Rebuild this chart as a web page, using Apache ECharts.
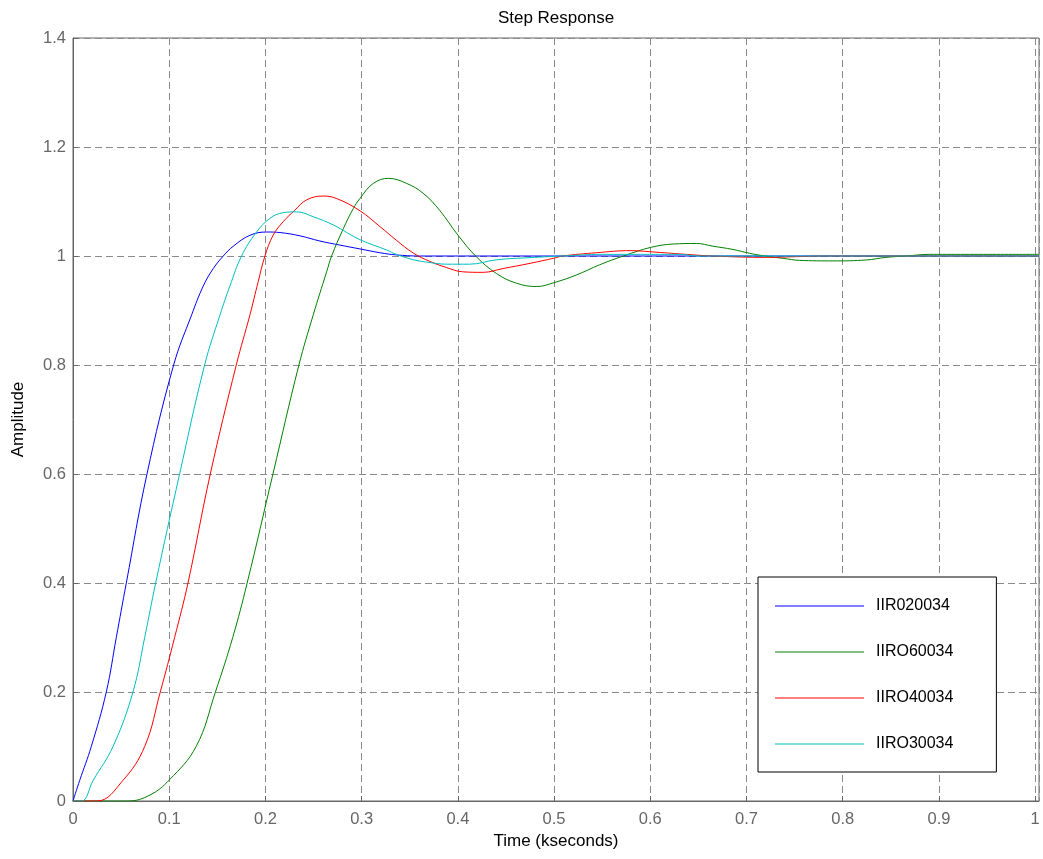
<!DOCTYPE html>
<html>
<head>
<meta charset="utf-8">
<title>Step Response</title>
<script src="https://cdn.jsdelivr.net/npm/echarts@6/dist/echarts.min.js"></script>
<style>
  html, body { margin: 0; padding: 0; background: #ffffff; }
  #chart { width: 1043px; height: 859px; }
</style>
</head>
<body>
<div id="chart"></div>
<script>
// Step response samples: time in kseconds, amplitude unitless
const seriesNames = ['IIR020034', 'IIRO60034', 'IIRO40034', 'IIRO30034'];
const seriesColors = ['#0000ff', '#008000', '#ff0000', '#00bfbf'];

const tIIR020034 = [0, 0.007, 0.019, 0.0346, 0.045, 0.0554, 0.0769, 0.1046, 0.1233, 0.1354, 0.1458, 0.1562, 0.1666, 0.1839, 0.2012, 0.2151, 0.2359, 0.2566, 0.2774, 0.2982, 0.319, 0.336, 0.36, 1.004];
const yIIR020034 = [0, 0.038, 0.1, 0.2, 0.3, 0.4, 0.6, 0.8, 0.892, 0.945, 0.977, 1.0, 1.018, 1.038, 1.044, 1.043, 1.037, 1.0275, 1.020, 1.013, 1.006, 1.002, 1.0, 1.0];

const tIIRO60034 = [0, 0.057, 0.08, 0.1, 0.128, 0.148, 0.166, 0.181, 0.2078, 0.2348, 0.2497, 0.2636, 0.2688, 0.2809, 0.2913, 0.2982, 0.312, 0.328, 0.347, 0.364, 0.381, 0.4, 0.419, 0.44, 0.461, 0.482, 0.4997, 0.523, 0.5475, 0.572, 0.601, 0.624, 0.648, 0.665, 0.686, 0.703, 0.719, 0.738, 0.755, 0.79, 0.8246, 0.845, 0.866, 0.89, 1.004];
const yIIRO60034 = [0, 0, 0.011, 0.0385, 0.1, 0.2, 0.3, 0.4, 0.6, 0.8, 0.892, 0.971, 1.0, 1.050, 1.087, 1.1055, 1.133, 1.1425, 1.133, 1.115, 1.084, 1.0385, 0.999, 0.968, 0.950, 0.944, 0.951, 0.965, 0.984, 1.0, 1.016, 1.022, 1.023, 1.018, 1.012, 1.005, 1.0, 0.9957, 0.992, 0.991, 0.9927, 0.9975, 1.0, 1.003, 1.003];

const tIIRO40034 = [0, 0.025, 0.052, 0.0745, 0.0907, 0.1056, 0.1195, 0.1427, 0.1697, 0.1839, 0.1925, 0.1995, 0.2081, 0.2185, 0.2306, 0.2428, 0.2601, 0.2739, 0.2982, 0.319, 0.336, 0.354, 0.371, 0.388, 0.405, 0.426, 0.447, 0.475, 0.4997, 0.509, 0.544, 0.579, 0.606, 0.6375, 0.665, 0.721, 0.752, 0.78, 1.004];
const yIIRO40034 = [0, 0, 0.038, 0.1, 0.2, 0.3, 0.4, 0.6, 0.8, 0.892, 0.953, 1.0, 1.0385, 1.063, 1.084, 1.103, 1.110, 1.1055, 1.083, 1.054, 1.029, 1.005, 0.990, 0.979, 0.971, 0.970, 0.977, 0.9865, 0.996, 1.0, 1.006, 1.0098, 1.007, 1.003, 1.0, 0.9975, 0.9988, 1.0, 1.0];

const tIIRO30034 = [0, 0.009, 0.021, 0.0416, 0.0623, 0.0745, 0.0859, 0.1108, 0.1368, 0.1528, 0.1631, 0.1752, 0.1908, 0.2047, 0.2185, 0.2324, 0.2497, 0.2705, 0.2982, 0.326, 0.336, 0.354, 0.371, 0.388, 0.412, 0.44, 0.475, 0.509, 0.55, 0.63, 0.65, 1.004];
const yIIRO30034 = [0, 0, 0.038, 0.1, 0.2, 0.3, 0.4, 0.6, 0.8, 0.892, 0.945, 1.0, 1.044, 1.069, 1.0795, 1.081, 1.072, 1.057, 1.030, 1.011, 1.003, 0.993, 0.988, 0.985, 0.985, 0.993, 0.997, 1.0, 1.003, 1.003, 1.0, 1.0];

const timeTicks = [0, 0.1, 0.2, 0.3, 0.4, 0.5, 0.6, 0.7, 0.8, 0.9, 1];
const ampTicks = [0, 0.2, 0.4, 0.6, 0.8, 1, 1.2, 1.4];

const seriesTimes = [tIIR020034, tIIRO60034, tIIRO40034, tIIRO30034];
const seriesValues = [yIIR020034, yIIRO60034, yIIRO40034, yIIRO30034];

const FONT = '"Liberation Sans", Arial, sans-serif';
const gridLine = { show: true, lineStyle: { color: '#8a8a8a', type: [7, 4], width: 1 } };

function pairs(ts, ys) {
  return ts.map((t, i) => [t, ys[i]]);
}

function tickLabel(list) {
  return (v) => {
    const hit = list.find((k) => Math.abs(k - v) < 1e-9);
    return hit === undefined ? '' : String(hit);
  };
}

const chart = echarts.init(document.getElementById('chart'), null, { renderer: 'canvas' });

chart.setOption({
  animation: false,
  backgroundColor: '#ffffff',
  textStyle: { fontFamily: FONT },
  title: {
    text: 'Step Response',
    left: 556,
    top: 10,
    padding: 0,
    textAlign: 'center',
    textStyle: { fontFamily: FONT, fontSize: 17, fontWeight: 'normal', color: '#000000' }
  },
  grid: {
    left: 73, top: 38, right: 4, bottom: 58,
    show: true, borderColor: '#666666', borderWidth: 1, backgroundColor: 'transparent'
  },
  legend: {
    orient: 'vertical',
    left: 758,
    top: 577,
    padding: [21, 43, 20, 17],
    itemGap: 30,
    itemWidth: 89,
    itemHeight: 1,
    icon: 'rect',
    backgroundColor: '#ffffff',
    borderColor: '#000000',
    borderWidth: 1,
    data: seriesNames,
    textStyle: { fontFamily: FONT, fontSize: 16, color: '#000000', lineHeight: 16, padding: [0, 0, 0, 7] }
  },
  xAxis: {
    type: 'value',
    min: 0,
    max: 1.004,
    interval: 0.1,
    name: 'Time (kseconds)',
    nameLocation: 'middle',
    nameGap: 31,
    nameTextStyle: { fontFamily: FONT, fontSize: 17, color: '#000000' },
    axisLine: { show: true, onZero: false, lineStyle: { color: '#666666' } },
    axisTick: { show: true, inside: true, length: 5, lineStyle: { color: '#666666' } },
    axisLabel: { margin: 10, fontSize: 16.5, color: '#666666', fontFamily: FONT, formatter: tickLabel(timeTicks), showMaxLabel: false },
    splitLine: gridLine
  },
  yAxis: {
    type: 'value',
    min: 0,
    max: 1.4,
    interval: 0.2,
    name: 'Amplitude',
    nameLocation: 'middle',
    nameGap: 46,
    nameTextStyle: { fontFamily: FONT, fontSize: 17, color: '#000000' },
    axisLine: { show: true, onZero: false, lineStyle: { color: '#666666' } },
    axisTick: { show: true, inside: true, length: 5, lineStyle: { color: '#666666' } },
    axisLabel: { margin: 7, fontSize: 16.5, color: '#666666', fontFamily: FONT, formatter: tickLabel(ampTicks) },
    splitLine: gridLine
  },
  series: seriesNames.map((name, i) => ({
    name: name,
    type: 'line',
    data: pairs(seriesTimes[i], seriesValues[i]),
    symbol: 'none',
    smooth: 0.4,
    clip: true,
    color: seriesColors[i],
    lineStyle: { color: seriesColors[i], width: 1 }
  }))
});
</script>
</body>
</html>
